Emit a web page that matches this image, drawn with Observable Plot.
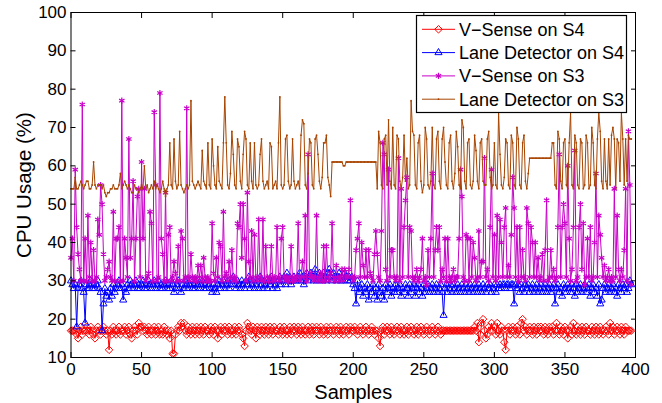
<!DOCTYPE html>
<html><head><meta charset="utf-8">
<script src="https://cdn.jsdelivr.net/npm/d3@7"></script>
<script src="https://cdn.jsdelivr.net/npm/@observablehq/plot@0.6"></script>
<style>body{margin:0;background:#fff}</style>
</head><body><div id="chart"></div>
<script>
const seriesNames = ["V\u2212Sense on S4", "Lane Detector on S4", "V\u2212Sense on S3", "Lane Detector on S3"];
const xTicks = [0, 50, 100, 150, 200, 250, 300, 350, 400];
const yTicks = [10, 20, 30, 40, 50, 60, 70, 80, 90, 100];

const vSenseS4 = [
17,17,17,17,16,15,17,18,16,17, 17,18,17,16,18,17,16,15,17,18,
17,16,17,18,17,16,17,12,17,16, 18,17,16,17,18,16,17,17,18,16,
17,18,16,15,17,18,17,16,19,18, 18,17,18,17,16,18,17,16,17,18,
16,17,18,16,17,16,18,17,16,17, 15,17,11,11,16,17,18,17,19,18,
19,17,16,18,17,16,18,17,16,18, 17,16,18,17,16,18,17,17,16,18,
17,16,18,17,15,17,18,16,17,18, 17,16,18,17,16,17,18,16,17,18,
17,16,15,13,17,19,18,17,16,18, 17,15,18,17,16,18,17,16,18,17,
16,18,17,16,18,17,17,16,18,17, 16,18,17,16,17,18,16,17,18,17,
16,18,17,16,18,17,16,17,18,16, 17,18,16,17,18,17,16,18,17,16,
17,18,16,17,18,17,16,17,18,17, 16,18,17,16,17,18,17,16,18,17,
17,18,17,16,17,18,17,16,17,18, 17,16,17,18,17,16,17,17,15,13,
17,18,16,17,18,17,16,18,17,16, 17,18,17,16,18,17,16,17,18,16,
17,18,17,16,17,18,16,17,18,17, 16,17,18,17,16,17,18,17,16,17,
18,17,16,17,17,17,17,17,17,17, 17,17,17,17,17,17,17,17,17,17,
17,17,17,17,17,17,18,17,19,14, 16,19,20,17,15,16,18,17,19,17,
18,16,19,17,16,18,17,14,12,17, 18,16,17,18,17,16,18,17,16,19,
20,17,18,16,17,18,17,16,18,17, 16,18,17,18,17,16,18,17,16,18,
17,18,16,17,19,17,16,18,17,16, 18,17,15,17,18,16,19,17,16,18,
17,16,18,17,16,18,17,17,16,18, 17,16,18,17,16,18,17,16,17,18,
17,16,19,17,18,16,17,18,17,16, 18,17,16,18,17,17,17,17
];

const laneS4 = [
30,29,28,29,18,28,29,30,28,27, 19,29,28,29,30,28,29,28,29,30,
28,27,17,24,28,26,27,25,28,26, 29,27,28,29,30,28,29,25,28,27,
29,28,30,29,28,29,30,28,29,28, 29,30,28,29,28,30,29,28,29,30,
28,29,30,28,29,28,29,30,28,29, 28,30,29,27,28,29,30,28,27,29,
28,30,29,28,29,30,28,29,28,30, 29,28,29,30,28,29,28,30,29,28,
27,29,28,27,29,30,28,29,30,28, 29,30,28,29,30,31,29,28,30,29,
28,30,29,28,30,29,31,28,29,30, 28,29,30,28,31,29,28,30,29,28,
30,29,31,28,30,29,28,30,31,29, 30,31,29,32,30,31,29,30,31,30,
30,31,32,30,31,29,31,32,30,31, 32,31,30,33,31,30,32,31,30,32,
31,30,32,33,31,30,32,31,30,31, 32,30,31,30,32,31,30,31,30,31,
29,28,24,30,27,28,29,26,28,27, 29,25,28,27,29,26,28,25,29,27,
26,28,25,29,27,28,29,26,28,27, 29,27,28,29,26,28,27,29,28,26,
29,27,28,29,26,28,29,27,28,26, 29,27,28,29,27,28,29,27,28,29,
27,28,29,27,21,28,29,27,28,29, 27,29,28,27,29,28,27,29,28,27,
29,28,27,29,28,27,29,28,27,29, 28,27,29,28,27,29,28,29,27,28,
29,27,29,28,29,28,29,29,28,29, 29,28,29,29,24,29,28,29,27,29,
28,27,29,28,29,27,28,29,27,28, 29,27,28,29,27,28,29,27,28,29,
27,28,29,24,28,29,27,28,26,29, 28,27,29,28,27,29,28,26,29,27,
28,29,27,28,29,27,28,29,26,28, 29,27,28,26,29,24,25,28,29,27,
28,29,27,28,29,27,28,26,29,28, 27,29,28,29,27,28,30,29
];

const vSenseS3 = [
36,41,30,59,44,37,33,30,76,30, 41,30,47,31,40,30,38,30,31,46,
42,55,50,37,30,31,33,35,31,30, 48,30,41,41,44,30,77,30,41,36,
31,67,36,41,56,30,41,52,54,31, 61,41,54,30,31,32,48,45,30,74,
55,30,31,79,41,37,30,53,30,42, 44,30,31,35,32,30,39,30,43,41,
30,31,75,31,30,37,31,30,31,30, 34,31,34,30,36,31,30,31,30,30,
45,32,30,36,31,40,39,30,48,31, 32,30,35,31,38,30,31,30,45,44,
50,36,50,41,30,53,35,31,43,30, 42,31,30,46,31,30,46,30,39,31,
30,31,39,30,31,30,44,31,30,41, 44,31,30,31,30,31,39,30,31,30,
31,45,30,31,35,31,47,30,63,31, 32,31,30,31,47,30,31,32,30,39,
30,39,31,30,32,45,31,30,34,31, 30,31,33,30,33,31,31,33,51,31,
30,31,38,41,45,31,40,34,31,38, 31,38,32,31,30,37,43,37,31,30,
43,66,63,33,30,59,31,38,38,31, 30,31,62,30,54,31,44,51,57,31,
44,43,31,30,31,33,30,31,33,41, 30,31,29,38,31,41,58,31,38,44,
38,44,30,33,31,41,30,41,31,30, 31,33,30,31,31,41,59,52,31,30,
42,41,30,41,31,40,36,30,31,43, 31,35,35,62,31,33,30,44,59,31,
42,30,47,31,46,40,31,44,49,31, 34,31,42,57,49,31,44,30,44,31,
38,31,30,49,45,31,44,40,31,40, 31,36,30,31,37,30,38,51,30,31,
38,31,33,30,31,44,63,31,44,50, 45,31,60,41,30,33,44,64,30,31,
44,50,33,45,29,31,41,31,44,30, 31,40,58,31,47,42,36,31,34,30,
31,33,30,31,30,54,31,47,33,30, 33,31,38,54,30,69,55,29
];

const laneS3 = [
54,54,54,57,54,54,55,56,55,54, 55,56,56,54,54,55,61,55,54,55,
55,55,54,55,53,52,53,53,54,54, 55,54,54,54,55,58,54,55,56,55,
54,55,54,53,53,55,54,54,53,54, 55,54,60,54,55,53,54,55,54,56,
54,55,54,53,54,56,54,52,54,55, 66,55,54,67,56,54,55,69,55,54,
53,54,55,54,55,77,56,55,54,55, 56,55,54,64,56,55,54,66,55,54,
67,60,55,54,65,56,55,54,66,78, 66,55,54,58,69,63,55,54,67,65,
56,54,63,69,67,55,54,66,56,54, 66,55,54,55,63,67,56,54,55,56,
54,66,65,54,55,56,54,66,78,55, 54,55,67,68,56,54,55,67,56,54,
55,56,54,68,72,71,55,54,58,67, 66,55,54,67,68,63,56,54,57,66,
66,68,57,55,52,61,61,61,61,61, 61,61,61,60,60,61,61,61,61,61,
61,61,61,61,61,61,61,61,61,61, 61,61,61,61,61,61,61,54,69,66,
55,54,67,68,55,72,56,54,70,55, 54,68,67,56,54,57,68,56,62,54,
55,77,69,68,55,54,66,68,56,53, 55,70,67,55,54,56,70,55,54,67,
69,56,54,67,70,61,55,54,66,68, 56,54,58,69,65,55,54,72,70,56,
54,66,67,55,54,56,68,64,56,54, 66,67,56,55,55,67,69,57,54,55,
66,55,54,74,63,55,54,57,67,66, 55,54,68,66,55,54,70,67,55,54,
66,68,56,54,58,62,62,62,62,62, 62,62,62,62,62,62,62,62,62,62,
62,66,66,55,54,69,67,56,54,66, 67,55,54,66,74,55,54,68,66,55,
54,67,66,54,55,68,66,54,55,70, 66,55,54,67,74,69,56,54,67,56,
54,67,55,68,70,67,54,67,66,56, 74,67,55,67,56,68,67,67
];

const colors = ["#ff0000", "#0000ff", "#c800c8", "#a84400"];
const symbols = ["diamond2", "triangle2", "asterisk", "circle"];
const allSeries = [vSenseS4, laneS4, vSenseS3, laneS3];
const rows = allSeries.map(arr => arr.map((v, i) => ({x: i, y: v})));

const font = "'Liberation Sans', Arial, Helvetica, sans-serif";
const marks = [];
rows.forEach((r, k) => {
  marks.push(Plot.line(r, {x: "x", y: "y", stroke: colors[k], strokeWidth: 1}));
  if (k === 3) {
    marks.push(Plot.dot(r, {x: "x", y: "y", r: 0.9, fill: colors[k], stroke: "none"}));
  } else {
    marks.push(Plot.dot(r, {x: "x", y: "y", symbol: symbols[k], r: k === 2 ? 2.9 : 3.4, stroke: colors[k], strokeWidth: k === 2 ? 1.2 : 1, fill: "none"}));
  }
});

const chart = Plot.plot({
  width: 662, height: 403,
  marginLeft: 70.5, marginRight: 27, marginTop: 12, marginBottom: 46,
  style: {fontFamily: font, background: "white", color: "black"},
  x: {domain: [0, 400]},
  y: {domain: [10, 100]},
  marks: [
    ...marks,
    Plot.frame({stroke: "black", strokeWidth: 1}),
    Plot.axisX({anchor: "bottom", ticks: xTicks, tickSize: -5, tickPadding: 10.5, fontSize: 17, label: null}),
    Plot.axisX({anchor: "top", ticks: xTicks, tickSize: -5, tickFormat: () => "", label: null}),
    Plot.axisY({anchor: "left", ticks: yTicks, tickSize: -5, tickPadding: 9.5, fontSize: 17, label: null}),
    Plot.axisY({anchor: "right", ticks: yTicks, tickSize: -5, tickFormat: () => "", label: null}),
    Plot.text(["Samples"], {frameAnchor: "bottom", dy: 41, fontSize: 20, lineAnchor: "bottom", textAnchor: "middle", fill: "black"}),
    Plot.text(["CPU Usage (%)"], {frameAnchor: "left", dx: -40, rotate: -90, fontSize: 20.5, lineAnchor: "bottom", textAnchor: "middle", fill: "black"})
  ]
});
document.getElementById("chart").appendChild(chart);

// legend inside the plot, top right
const svg = d3.select(chart.tagName.toLowerCase() === "svg" ? chart : chart.querySelector("svg"));
const lg = svg.append("g").attr("font-family", font).attr("font-size", 18).attr("text-anchor", "start");
lg.append("rect").attr("x", 416.5).attr("y", 15.5).attr("width", 210).attr("height", 97)
  .attr("fill", "white").attr("stroke", "black").attr("stroke-width", 1.2);
const symMap = [d3.symbolDiamond2, d3.symbolTriangle2, d3.symbolAsterisk, d3.symbolCircle];
seriesNames.forEach((name, i) => {
  const cy = 29.3 + i * 23.3;
  lg.append("line").attr("x1", 422).attr("x2", 455).attr("y1", cy).attr("y2", cy)
    .attr("stroke", colors[i]).attr("stroke-width", 1);
  const size = i === 3 ? Math.PI * 0.8 : Math.PI * (i === 2 ? 2.9 * 2.9 : 3.4 * 3.4);
  lg.append("path").attr("d", d3.symbol(symMap[i], size)())
    .attr("transform", `translate(438.5,${cy})`)
    .attr("fill", i === 3 ? colors[i] : "none")
    .attr("stroke", i === 3 ? "none" : colors[i]).attr("stroke-width", i === 2 ? 1.2 : 1);
  lg.append("text").attr("x", 459).attr("y", cy).attr("dy", "0.35em").attr("text-anchor", "start")
    .attr("fill", "black").text(name);
});
</script>
</body></html>
